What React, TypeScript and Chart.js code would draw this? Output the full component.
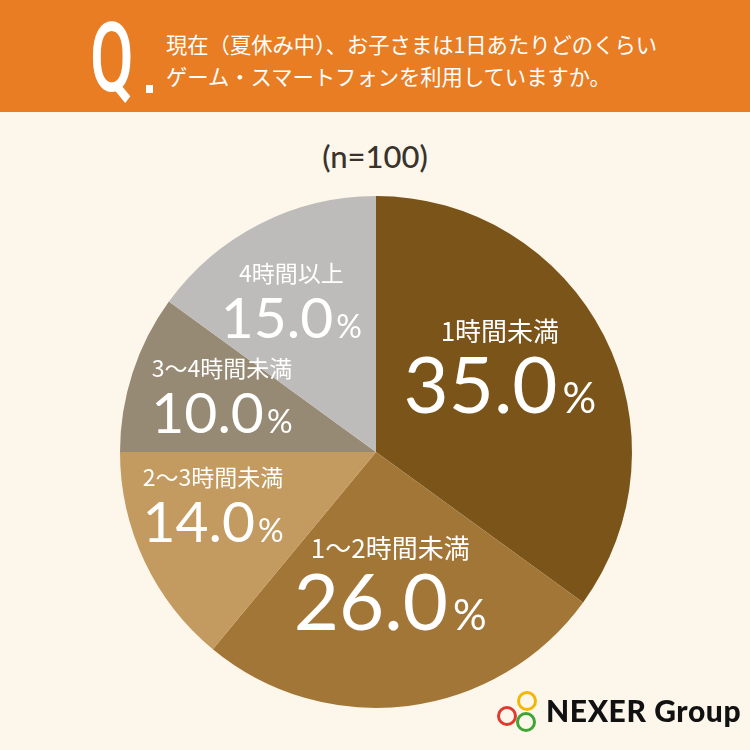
import React, { useEffect, useRef } from "react";
import { Chart, registerables } from "chart.js";

Chart.register(...registerables);

const categories = ["1時間未満", "1〜2時間未満", "2〜3時間未満", "3〜4時間未満", "4時間以上"];
const values = [35.0, 26.0, 14.0, 10.0, 15.0];
const sliceColors = ["#7B5419", "#A27637", "#C39A5F", "#978A74", "#BEBCBA"];
const questionLines = ["現在（夏休み中）、お子さまは1日あたりどのくらい", "ゲーム・スマートフォンを利用していますか。"];
const sampleText = "(n=100)";

// label placement (styling): radial fraction, dx, dy, large?
const labelPlacement = [
  { f: 0.6, dx: -13, dy: -22, big: true },
  { f: 0.6, dx: -5, dy: -27, big: true },
  { f: 0.6, dx: -24, dy: -18, big: false },
  { f: 0.6, dx: -8, dy: -14, big: false },
  { f: 0.6, dx: -15, dy: -20, big: false },
];

const NUM_FONT = "Lato, 'Noto Sans', sans-serif";
const JP_FONT = "'Noto Sans CJK JP', sans-serif";

const labelPlugin = {
  id: "sliceLabels",
  afterDatasetsDraw(chart: any) {
    const ctx = chart.ctx;
    const meta = chart.getDatasetMeta(0);
    meta.data.forEach((arc: any, i: number) => {
      const p = labelPlacement[i];
      const mid = (arc.startAngle + arc.endAngle) / 2;
      const cx = arc.x + Math.cos(mid) * arc.outerRadius * p.f + p.dx;
      const cy = arc.y + Math.sin(mid) * arc.outerRadius * p.f + p.dy;
      ctx.save();
      ctx.fillStyle = "#FFFFFF";
      ctx.textBaseline = "middle";
      ctx.textAlign = "center";
      const labelSize = p.big ? 26 : 23;
      ctx.font = `400 ${labelSize}px ${JP_FONT}`;
      ctx.fillText(categories[i], cx, cy + (p.big ? -29 : -22));
      const numSize = p.big ? 78 : 57;
      const pctSize = p.big ? 42 : 32;
      const numStr = values[i].toFixed(1);
      ctx.font = `400 ${numSize}px ${NUM_FONT}`;
      const w1 = ctx.measureText(numStr).width;
      ctx.font = `400 ${pctSize}px ${NUM_FONT}`;
      const w2 = ctx.measureText("%").width;
      const gap = p.big ? 5 : 3;
      const total = w1 + gap + w2;
      const x0 = cx - total / 2;
      const baseline = cy + (p.big ? 25 : 22) + numSize * 0.36;
      ctx.textAlign = "left";
      ctx.textBaseline = "alphabetic";
      ctx.font = `400 ${numSize}px ${NUM_FONT}`;
      ctx.fillText(numStr, x0, baseline);
      ctx.font = `400 ${pctSize}px ${NUM_FONT}`;
      ctx.fillText("%", x0 + w1 + gap, baseline);
      ctx.restore();
    });
  },
};

function PieChart() {
  const ref = useRef<HTMLCanvasElement | null>(null);
  useEffect(() => {
    if (!ref.current) return;
    const chart = new Chart(ref.current, {
      type: "pie",
      data: {
        labels: categories,
        datasets: [
          {
            data: values,
            backgroundColor: sliceColors,
            borderWidth: 0,
          },
        ],
      },
      options: {
        responsive: false,
        animation: false,
        layout: { padding: { left: 120, right: 118, top: 196, bottom: 42 } },
        plugins: {
          legend: { display: false },
          tooltip: { enabled: false },
        },
      },
      plugins: [labelPlugin],
    });
    return () => chart.destroy();
  }, []);
  return (
    <canvas
      ref={ref}
      width={750}
      height={750}
      style={{ position: "absolute", left: 0, top: 0, width: 750, height: 750 }}
    />
  );
}

function Logo() {
  const ring = (left: number, top: number, color: string) => (
    <div
      style={{
        position: "absolute",
        left,
        top,
        width: 14,
        height: 14,
        borderRadius: "50%",
        border: `3px solid ${color}`,
      }}
    />
  );
  return (
    <div style={{ position: "absolute", left: 0, top: 0, width: 750, height: 750, pointerEvents: "none" }}>
      {ring(517, 691, "#F2B705")}
      {ring(497, 706, "#E03A2F")}
      {ring(516, 712, "#3FA535")}
      <div
        style={{
          position: "absolute",
          left: 546,
          top: 692,
          fontFamily: "Lato, sans-serif",
          fontWeight: 900,
          fontSize: 30,
          color: "#111",
          lineHeight: "36px",
          whiteSpace: "nowrap",
          letterSpacing: 0.6,
        }}
      >
        NEXER Group
      </div>
    </div>
  );
}

export default function App() {
  return (
    <div
      style={{
        position: "fixed",
        left: 0,
        top: 0,
        width: 750,
        height: 750,
        background: "#FDF7EB",
        overflow: "hidden",
      }}
    >
      <div
        style={{
          position: "absolute",
          left: 0,
          top: 0,
          width: 750,
          height: 112,
          background: "#E87D24",
        }}
      >
        <div
          style={{
            position: "absolute",
            left: 90,
            top: 10,
            fontFamily: "Roboto, sans-serif",
            fontWeight: 500,
            fontSize: 96,
            lineHeight: "96px",
            color: "#FFFFFF",
            transform: "scaleX(0.66)",
            transformOrigin: "left top",
          }}
        >
          Q
        </div>
        <div
          style={{
            position: "absolute",
            left: 146,
            top: 85,
            width: 7,
            height: 8,
            background: "#FFFFFF",
          }}
        />
        {questionLines.map((t, i) => (
          <div
            key={i}
            style={{
              position: "absolute",
              left: 166,
              top: 30 + i * 32,
              fontFamily: JP_FONT,
              fontSize: 21.3,
              lineHeight: "28px",
              color: "#FFFFFF",
              whiteSpace: "nowrap",
            }}
          >
            {t}
          </div>
        ))}
      </div>
      <div
        style={{
          position: "absolute",
          left: 0,
          width: 750,
          top: 136,
          textAlign: "center",
          fontFamily: "Lato, 'Noto Sans', sans-serif",
          fontSize: 31,
          lineHeight: "40px",
          color: "#3A332C",
          fontWeight: 500,
        }}
      >
        {sampleText}
      </div>
      <PieChart />
      <Logo />
    </div>
  );
}
